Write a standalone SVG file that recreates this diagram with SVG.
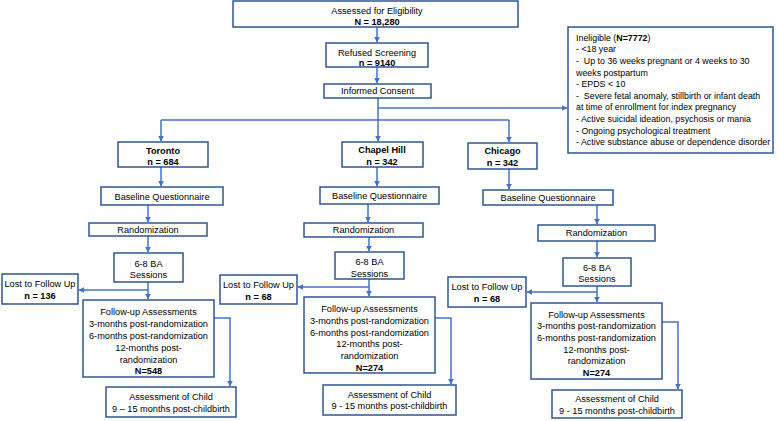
<svg xmlns="http://www.w3.org/2000/svg" width="779" height="421" viewBox="0 0 779 421">
<style>
.box{fill:#fff;stroke:#2F5597;stroke-width:1.5}
.t{font-family:"Liberation Sans",Arial,sans-serif;font-size:9.2px;fill:#000;text-anchor:middle}
.l{text-anchor:start;font-size:8.85px}
.b{font-weight:bold}
.c{fill:none;stroke:#4472C4;stroke-width:1.5}
</style>
<defs>
<marker id="ah" viewBox="0 0 10 10" refX="9" refY="5" markerWidth="6" markerHeight="6" markerUnits="userSpaceOnUse" orient="auto">
<path d="M0,0 L10,5 L0,10 z" fill="#4472C4"/>
</marker>
</defs>
<rect width="779" height="421" fill="#fff"/>
<g id="connectors">
<path class="c" d="M377,27 V42" marker-end="url(#ah)"/>
<path class="c" d="M377,67 V83" marker-end="url(#ah)"/>
<path class="c" d="M378,98 V141" marker-end="url(#ah)"/>
<path class="c" d="M378,108 H567" marker-end="url(#ah)"/>
<path class="c" d="M161,120 H509"/>
<path class="c" d="M161,120 V141" marker-end="url(#ah)"/>
<path class="c" d="M509,120 V142" marker-end="url(#ah)"/>
<path class="c" d="M161,167 V186" marker-end="url(#ah)"/>
<path class="c" d="M148,205 V222" marker-end="url(#ah)"/>
<path class="c" d="M148,236 V252" marker-end="url(#ah)"/>
<path class="c" d="M148,282 V299" marker-end="url(#ah)"/>
<path class="c" d="M148,290 H79" marker-end="url(#ah)"/>
<path class="c" d="M214,318 H230 V386" marker-end="url(#ah)"/>
<path class="c" d="M377,167 V186" marker-end="url(#ah)"/>
<path class="c" d="M368,204 V222" marker-end="url(#ah)"/>
<path class="c" d="M369,237 V251" marker-end="url(#ah)"/>
<path class="c" d="M369,279 V296" marker-end="url(#ah)"/>
<path class="c" d="M369,287 H298" marker-end="url(#ah)"/>
<path class="c" d="M435,318 H451 V384" marker-end="url(#ah)"/>
<path class="c" d="M509,169 V189" marker-end="url(#ah)"/>
<path class="c" d="M597,205 V224" marker-end="url(#ah)"/>
<path class="c" d="M597,241 V257" marker-end="url(#ah)"/>
<path class="c" d="M597,286 V302" marker-end="url(#ah)"/>
<path class="c" d="M597,292 H527" marker-end="url(#ah)"/>
<path class="c" d="M662,322 H678 V389" marker-end="url(#ah)"/>
</g>
<g id="assessed"><rect class="box" x="233" y="1" width="285" height="26"/>
<text class="t" x="377" y="13.5">Assessed for Eligibility</text>
<text class="t b" x="377" y="25">N = 18,280</text></g>
<g id="refused"><rect class="box" x="326" y="43" width="102" height="24"/>
<text class="t" x="377" y="55.5">Refused Screening</text>
<text class="t b" x="377" y="66">n = 9140</text></g>
<g id="consent"><rect class="box" x="324" y="84" width="107" height="14"/>
<text class="t" x="377.5" y="94.3">Informed Consent</text></g>
<g id="ineligible"><rect class="box" x="568" y="27" width="205" height="126"/>
<text class="t l" x="576" y="40.8">Ineligible (<tspan class="b">N=7772</tspan>)</text>
<text class="t l" x="576" y="52.4">- &lt;18 year</text>
<text class="t l" x="576" y="64" xml:space="preserve">-  Up to 36 weeks pregnant or 4 weeks to 30</text>
<text class="t l" x="576" y="75.6">weeks postpartum</text>
<text class="t l" x="576" y="87.2">- EPDS &lt; 10</text>
<text class="t l" x="576" y="98.8" xml:space="preserve">-  Severe fetal anomaly, stillbirth or infant death</text>
<text class="t l" x="576" y="110.4">at time of enrollment for index pregnancy</text>
<text class="t l" x="576" y="122">- Active suicidal ideation, psychosis or mania</text>
<text class="t l" x="576" y="133.6">- Ongoing psychological treatment</text>
<text class="t l" x="576" y="145.2">- Active substance abuse or dependence disorder</text></g>

<g id="toronto"><rect class="box" x="118" y="142" width="90" height="25"/>
<text class="t b" x="163" y="153.5">Toronto</text>
<text class="t b" x="163" y="165.3">n = 684</text></g>
<g id="toronto-baseline"><rect class="box" x="101" y="187" width="122" height="18"/>
<text class="t" x="162" y="200.3">Baseline Questionnaire</text></g>
<g id="toronto-random"><rect class="box" x="89" y="223" width="118" height="13"/>
<text class="t" x="148" y="232.8">Randomization</text></g>
<g id="toronto-ba"><rect class="box" x="114" y="253" width="69" height="29"/>
<text class="t" x="148.5" y="266.5">6-8 BA</text>
<text class="t" x="148.5" y="278.3">Sessions</text></g>
<g id="toronto-lost"><rect class="box" x="2" y="274" width="76" height="30"/>
<text class="t" x="40" y="287.3">Lost to Follow Up</text>
<text class="t b" x="40" y="299">n = 136</text></g>
<g id="toronto-followup"><rect class="box" x="83" y="300" width="131" height="77"/>
<text class="t" x="148.5" y="315.3">Follow-up Assessments</text>
<text class="t" x="148.5" y="327.1">3-months post-randomization</text>
<text class="t" x="148.5" y="338.9">6-months post-randomization</text>
<text class="t" x="148.5" y="350.7">12-months post-</text>
<text class="t" x="148.5" y="362.5">randomization</text>
<text class="t b" x="148.5" y="374.3">N=548</text></g>
<g id="toronto-child"><rect class="box" x="106" y="387" width="130" height="30"/>
<text class="t" x="171" y="400.3">Assessment of Child</text>
<text class="t" x="171" y="411.8">9 – 15 months post-childbirth</text></g>

<g id="chapel"><rect class="box" x="342" y="142" width="81" height="25"/>
<text class="t b" x="382" y="152.8">Chapel Hill</text>
<text class="t b" x="382" y="165">n = 342</text></g>
<g id="chapel-baseline"><rect class="box" x="320" y="187" width="119" height="17"/>
<text class="t" x="379.5" y="199.3">Baseline Questionnaire</text></g>
<g id="chapel-random"><rect class="box" x="304" y="223" width="119" height="14"/>
<text class="t" x="363.5" y="233">Randomization</text></g>
<g id="chapel-ba"><rect class="box" x="335" y="252" width="69" height="27"/>
<text class="t" x="369.5" y="265">6-8 BA</text>
<text class="t" x="369.5" y="276.5">Sessions</text></g>
<g id="chapel-lost"><rect class="box" x="220" y="275" width="77" height="29"/>
<text class="t" x="258.5" y="288">Lost to Follow Up</text>
<text class="t b" x="258.5" y="299.5">n = 68</text></g>
<g id="chapel-followup"><rect class="box" x="304" y="297" width="131" height="76"/>
<text class="t" x="369.5" y="312.3">Follow-up Assessments</text>
<text class="t" x="369.5" y="324">3-months post-randomization</text>
<text class="t" x="369.5" y="335.5">6-months post-randomization</text>
<text class="t" x="369.5" y="347.2">12-months post-</text>
<text class="t" x="369.5" y="359">randomization</text>
<text class="t b" x="369.5" y="370.5">N=274</text></g>
<g id="chapel-child"><rect class="box" x="323" y="385" width="133" height="30"/>
<text class="t" x="389.5" y="397.5">Assessment of Child</text>
<text class="t" x="389.5" y="409">9 - 15 months post-childbirth</text></g>

<g id="chicago"><rect class="box" x="468" y="143" width="69" height="26"/>
<text class="t b" x="502.5" y="153.5">Chicago</text>
<text class="t b" x="502.5" y="166">n = 342</text></g>
<g id="chicago-baseline"><rect class="box" x="483" y="190" width="130" height="15"/>
<text class="t" x="548" y="201.3">Baseline Questionnaire</text></g>
<g id="chicago-random"><rect class="box" x="538" y="225" width="117" height="16"/>
<text class="t" x="596.5" y="236.3">Randomization</text></g>
<g id="chicago-ba"><rect class="box" x="563" y="258" width="68" height="28"/>
<text class="t" x="597" y="270.5">6-8 BA</text>
<text class="t" x="597" y="282">Sessions</text></g>
<g id="chicago-lost"><rect class="box" x="448" y="277" width="78" height="30"/>
<text class="t" x="487" y="290">Lost to Follow Up</text>
<text class="t b" x="487" y="301.5">n = 68</text></g>
<g id="chicago-followup"><rect class="box" x="531" y="303" width="131" height="76"/>
<text class="t" x="596.5" y="317.5">Follow-up Assessments</text>
<text class="t" x="596.5" y="329.2">3-months post-randomization</text>
<text class="t" x="596.5" y="341">6-months post-randomization</text>
<text class="t" x="596.5" y="352.5">12-months post-</text>
<text class="t" x="596.5" y="364.2">randomization</text>
<text class="t b" x="596.5" y="376">N=274</text></g>
<g id="chicago-child"><rect class="box" x="552" y="390" width="130" height="28"/>
<text class="t" x="617" y="402.3">Assessment of Child</text>
<text class="t" x="617" y="414">9 - 15 months post-childbirth</text></g>
</svg>
